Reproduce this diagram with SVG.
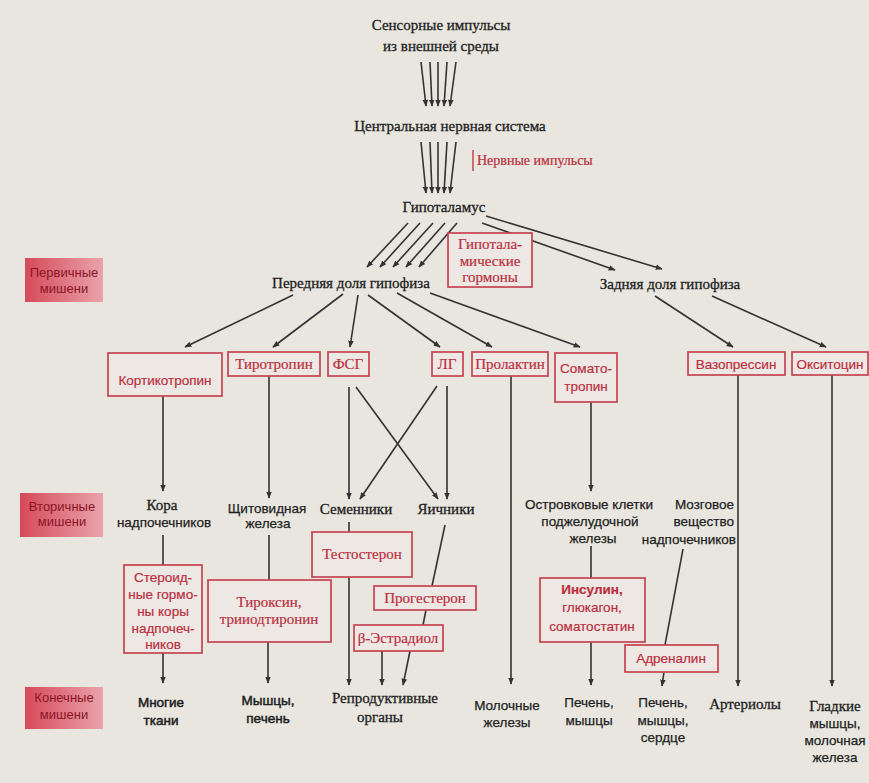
<svg xmlns="http://www.w3.org/2000/svg" width="869" height="783" viewBox="0 0 869 783">
<defs>
<style>
.bg{fill:#e8e6df}
.t{font-family:"Liberation Serif",serif;font-size:15px;fill:#1e1e1e;stroke:#1e1e1e;stroke-width:0.3;text-anchor:middle}
.s{font-family:"Liberation Sans",sans-serif;font-size:13.5px;fill:#1e1e1e;stroke:#1e1e1e;stroke-width:0.25;text-anchor:middle}
.r{fill:#bb2f3e;stroke:#bb2f3e;stroke-width:0.2}
.box{fill:#eee8e4;stroke:#c54352;stroke-width:1.7}
.c{stroke:#333333;stroke-width:1.6;fill:none}
.a{marker-end:url(#ah)}
.lab{fill:url(#pink)}
.lt{font-family:"Liberation Sans",sans-serif;font-size:13px;fill:#8a1626;text-anchor:middle}
</style>
<marker id="ah" viewBox="0 0 10 10" refX="9" refY="5" markerWidth="7" markerHeight="7" orient="auto" markerUnits="userSpaceOnUse">
<path d="M0,1 L10,5 L0,9 z" fill="#333333"/>
</marker>
<linearGradient id="pink" x1="0" y1="0" x2="1" y2="0">
<stop offset="0" stop-color="#d64a5a"/>
<stop offset="1" stop-color="#e9a3ab"/>
</linearGradient>
</defs>
<rect class="bg" x="0" y="0" width="869" height="783"/>

<g id="connectors">
<line class="c a" x1="421" y1="62" x2="426" y2="106"/>
<line class="c a" x1="430" y1="62" x2="432" y2="106"/>
<line class="c a" x1="438" y1="62" x2="438" y2="106"/>
<line class="c a" x1="447" y1="62" x2="444" y2="106"/>
<line class="c a" x1="456" y1="62" x2="450" y2="106"/>
<line class="c a" x1="421" y1="142" x2="426" y2="193"/>
<line class="c a" x1="430" y1="142" x2="432" y2="193"/>
<line class="c a" x1="438" y1="142" x2="438" y2="193"/>
<line class="c a" x1="447" y1="142" x2="444" y2="193"/>
<line class="c a" x1="456" y1="142" x2="450" y2="193"/>
<line class="c a" x1="408" y1="223" x2="367" y2="267"/>
<line class="c a" x1="420" y1="223" x2="380" y2="267"/>
<line class="c a" x1="433" y1="223" x2="393" y2="267"/>
<line class="c a" x1="445" y1="223" x2="406" y2="267"/>
<line class="c a" x1="457" y1="223" x2="419" y2="267"/>
<line class="c a" x1="486" y1="216" x2="662" y2="269"/>
<line class="c a" x1="482" y1="223" x2="615" y2="270"/>
<line class="c a" x1="293" y1="295" x2="185" y2="347"/>
<line class="c a" x1="343" y1="294" x2="273" y2="347"/>
<line class="c a" x1="358" y1="295" x2="350" y2="347"/>
<line class="c a" x1="368" y1="295" x2="440" y2="347"/>
<line class="c a" x1="397" y1="293" x2="492" y2="347"/>
<line class="c a" x1="430" y1="293" x2="580" y2="347"/>
<line class="c a" x1="655" y1="296" x2="733" y2="347"/>
<line class="c a" x1="712" y1="296" x2="826" y2="347"/>
<line class="c a" x1="163" y1="396" x2="163" y2="491"/>
<line class="c" x1="163" y1="535" x2="163" y2="565"/>
<line class="c a" x1="163" y1="653" x2="163" y2="683"/>
<line class="c a" x1="269" y1="376" x2="269" y2="498"/>
<line class="c" x1="269" y1="535" x2="269" y2="580"/>
<line class="c a" x1="268" y1="642" x2="268" y2="683"/>
<line class="c a" x1="349" y1="387" x2="349" y2="499"/>
<line class="c a" x1="356" y1="387" x2="438" y2="499"/>
<line class="c a" x1="437" y1="386" x2="360" y2="499"/>
<line class="c a" x1="447" y1="386" x2="447" y2="499"/>
<line class="c" x1="349" y1="522" x2="349" y2="532"/>
<line class="c a" x1="349" y1="577" x2="349" y2="685"/>
<line class="c" x1="445" y1="525" x2="432" y2="586"/>
<line class="c" x1="426" y1="610" x2="423" y2="625"/>
<line class="c a" x1="382" y1="651" x2="382" y2="685"/>
<line class="c a" x1="410" y1="651" x2="403" y2="685"/>
<line class="c a" x1="511" y1="376" x2="511" y2="684"/>
<line class="c a" x1="591" y1="402" x2="591" y2="491"/>
<line class="c" x1="591" y1="546" x2="591" y2="578"/>
<line class="c a" x1="591" y1="642" x2="591" y2="685"/>
<line class="c" x1="683" y1="549" x2="665" y2="645"/>
<line class="c a" x1="664" y1="672" x2="662" y2="686"/>
<line class="c a" x1="738" y1="375" x2="738" y2="686"/>
<line class="c a" x1="832" y1="375" x2="832" y2="686"/>
</g>

<g id="sensory"><text class="t" x="441" y="30">Сенсорные импульсы</text><text class="t" x="441" y="51">из внешней среды</text></g>
<g id="cns"><text class="t" x="450" y="131">Центральная нервная система</text></g>
<g id="nerve-impulses"><line x1="473" y1="150" x2="473" y2="171" stroke="#bb2f3e" stroke-width="1.3"/><text class="t r" x="477" y="165" style="text-anchor:start;font-size:14px">Нервные импульсы</text></g>
<g id="hypothalamus"><text class="t" x="444" y="212">Гипоталамус</text></g>
<g id="hypothalamic-hormones"><rect class="box" x="448" y="233" width="84" height="54"/><text class="t r" x="490" y="249">Гипотала-</text><text class="t r" x="490" y="266">мические</text><text class="t r" x="490" y="282">гормоны</text></g>
<g id="anterior"><text class="t" x="351" y="288">Передняя доля гипофиза</text></g>
<g id="posterior"><text class="t" x="670" y="289">Задняя доля гипофиза</text></g>

<g id="label-primary"><rect class="lab" x="25" y="258" width="78" height="44"/><text class="lt" x="64" y="277">Первичные</text><text class="lt" x="64" y="293">мишени</text></g>
<g id="label-secondary"><rect class="lab" x="20" y="493" width="83" height="44"/><text class="lt" x="62" y="511">Вторичные</text><text class="lt" x="62" y="526">мишени</text></g>
<g id="label-final"><rect class="lab" x="25" y="687" width="78" height="42"/><text class="lt" x="64" y="702">Конечные</text><text class="lt" x="64" y="719">мишени</text></g>

<g id="corticotropin"><rect class="box" x="108" y="353" width="114" height="43"/><text class="s r" x="165" y="385">Кортикотропин</text></g>
<g id="thyrotropin"><rect class="box" x="228" y="352" width="92" height="24"/><text class="t r" x="274" y="369">Тиротропин</text></g>
<g id="fsh"><rect class="box" x="328" y="352" width="41" height="24"/><text class="t r" x="348" y="369">ФСГ</text></g>
<g id="lh"><rect class="box" x="432" y="352" width="31" height="24"/><text class="t r" x="447" y="369">ЛГ</text></g>
<g id="prolactin"><rect class="box" x="472" y="352" width="76" height="24"/><text class="t r" x="510" y="369">Пролактин</text></g>
<g id="somatotropin"><rect class="box" x="555" y="353" width="62" height="49"/><text class="s r" x="586" y="373">Сомато-</text><text class="s r" x="586" y="391">тропин</text></g>
<g id="vasopressin"><rect class="box" x="688" y="352" width="97" height="23"/><text class="s r" x="736" y="369">Вазопрессин</text></g>
<g id="oxytocin"><rect class="box" x="792" y="352" width="76" height="23"/><text class="s r" x="830" y="369">Окситоцин</text></g>

<g id="adrenal-cortex"><text class="t" x="162" y="510">Кора</text><text class="s" x="164" y="527">надпочечников</text></g>
<g id="thyroid"><text class="s" x="267" y="513">Щитовидная</text><text class="s" x="268" y="528">железа</text></g>
<g id="testes"><text class="t" x="356" y="514">Семенники</text></g>
<g id="ovaries"><text class="t" x="446" y="514">Яичники</text></g>
<g id="islets"><text class="s" x="589" y="509">Островковые клетки</text><text class="s" x="590" y="526">поджелудочной</text><text class="s" x="593" y="543">железы</text></g>
<g id="adrenal-medulla"><text class="s" x="734" y="509" style="text-anchor:end">Мозговое</text><text class="s" x="734" y="526" style="text-anchor:end">вещество</text><text class="s" x="736" y="544" style="text-anchor:end">надпочечников</text></g>

<g id="steroids"><rect class="box" x="124" y="565" width="78" height="88"/><text class="s r" x="163" y="582">Стероид-</text><text class="s r" x="163" y="599">ные гормо-</text><text class="s r" x="163" y="616">ны коры</text><text class="s r" x="163" y="633">надпочеч-</text><text class="s r" x="163" y="649">ников</text></g>
<g id="thyroxine"><rect class="box" x="208" y="580" width="123" height="62"/><text class="t r" x="269" y="607">Тироксин,</text><text class="t r" x="269" y="624">трииодтиронин</text></g>
<g id="testosterone"><rect class="box" x="312" y="532" width="100" height="45"/><text class="t r" x="362" y="559">Тестостерон</text></g>
<g id="progesterone"><rect class="box" x="374" y="586" width="102" height="24"/><text class="t r" x="425" y="603">Прогестерон</text></g>
<g id="estradiol"><rect class="box" x="354" y="625" width="89" height="26"/><text class="t r" x="398" y="643">β-Эстрадиол</text></g>
<g id="insulin"><rect class="box" x="540" y="578" width="105" height="64"/><text class="s r" x="592" y="594" style="font-weight:bold">Инсулин,</text><text class="s r" x="592" y="612">глюкагон,</text><text class="s r" x="592" y="631">соматостатин</text></g>
<g id="adrenaline"><rect class="box" x="625" y="645" width="93" height="27"/><text class="s r" x="671" y="663">Адреналин</text></g>

<g id="many-tissues"><text class="s" x="161" y="707" style="stroke-width:0.5">Многие</text><text class="s" x="161" y="725" style="stroke-width:0.5">ткани</text></g>
<g id="muscle-liver"><text class="s" x="268" y="705" style="stroke-width:0.5">Мышцы,</text><text class="s" x="268" y="723" style="stroke-width:0.5">печень</text></g>
<g id="reproductive"><text class="t" x="385" y="703">Репродуктивные</text><text class="t" x="380" y="722">органы</text></g>
<g id="mammary"><text class="s" x="507" y="710">Молочные</text><text class="s" x="507" y="727">железы</text></g>
<g id="liver-muscle"><text class="s" x="589" y="707">Печень,</text><text class="s" x="589" y="725">мышцы</text></g>
<g id="liver-muscle-heart"><text class="s" x="663" y="707">Печень,</text><text class="s" x="663" y="725">мышцы,</text><text class="s" x="663" y="742">сердце</text></g>
<g id="arterioles"><text class="t" x="745" y="709">Артериолы</text></g>
<g id="smooth-muscle"><text class="t" x="835" y="711">Гладкие</text><text class="s" x="835" y="728">мышцы,</text><text class="s" x="835" y="745">молочная</text><text class="s" x="835" y="762">железа</text></g>
</svg>
